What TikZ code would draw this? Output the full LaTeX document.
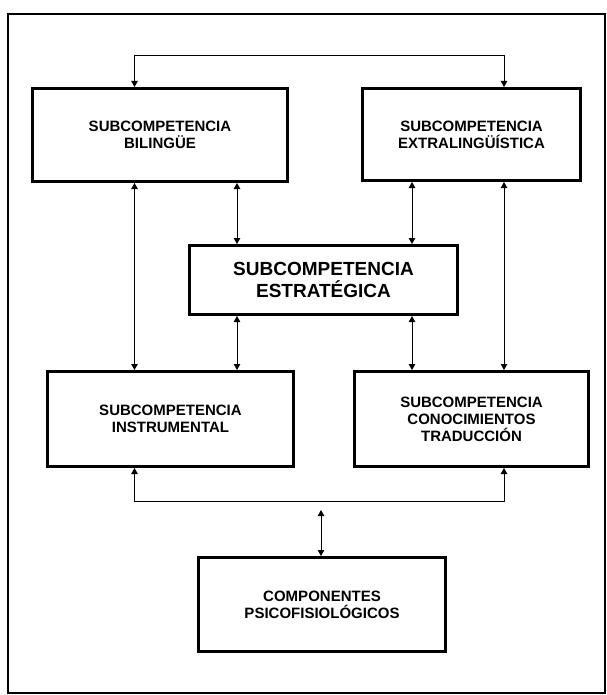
\documentclass[tikz,border=0pt]{standalone}
\usepackage{fontspec}
\setmainfont{Liberation Sans}
\usetikzlibrary{arrows.meta}
\begin{document}
\begin{tikzpicture}[x=1pt,y=-1pt,
  box/.style={draw, line width=3pt, rectangle, align=center, inner sep=0pt,
    font=\bfseries\fontsize{15}{17}\selectfont},
  bigbox/.style={box, font=\bfseries\fontsize{19}{22}\selectfont},
  conn/.style={line width=1pt, {Triangle[width=6.5pt,length=6pt]}-{Triangle[width=6.5pt,length=6pt]}},
]
\useasboundingbox (0,0) rectangle (606,695);
\draw[line width=2pt] (8,14) rectangle (605,693);

\node[box, minimum width=255pt, minimum height=93pt] (bil) at (160,135) {SUBCOMPETENCIA\\BILINGÜE};
\node[box, minimum width=218pt, minimum height=92pt] (ext) at (471.5,134.5) {SUBCOMPETENCIA\\EXTRALINGÜÍSTICA};
\node[bigbox, minimum width=268pt, minimum height=69pt] (est) at (323.5,280) {SUBCOMPETENCIA\\ESTRATÉGICA};
\node[box, minimum width=246pt, minimum height=95pt] (ins) at (170.5,419) {SUBCOMPETENCIA\\INSTRUMENTAL};
\node[box, minimum width=234pt, minimum height=95pt] (con) at (471.5,419) {SUBCOMPETENCIA\\CONOCIMIENTOS\\TRADUCCIÓN};
\node[box, minimum width=247pt, minimum height=94pt] (com) at (322,604.5) {COMPONENTES\\PSICOFISIOLÓGICOS};

\coordinate (xA) at (134.5,0);
\coordinate (xB) at (237,0);
\coordinate (xC) at (412,0);
\coordinate (xD) at (504,0);
\coordinate (top) at (0,56);
\coordinate (bot) at (0,501);
\coordinate (mtop) at (321,510);

\draw[conn] (bil.north -| xA) -- (xA |- top) -- (xD |- top) -- (ext.north -| xD);
\draw[conn] (bil.south -| xA) -- (ins.north -| xA);
\draw[conn] (bil.south -| xB) -- (est.north -| xB);
\draw[conn] (est.south -| xB) -- (ins.north -| xB);
\draw[conn] (ext.south -| xC) -- (est.north -| xC);
\draw[conn] (est.south -| xC) -- (con.north -| xC);
\draw[conn] (ext.south -| xD) -- (con.north -| xD);
\draw[conn] (ins.south -| xA) -- (xA |- bot) -- (xD |- bot) -- (con.south -| xD);
\draw[conn] (mtop) -- (com.north -| mtop);
\end{tikzpicture}
\end{document}
